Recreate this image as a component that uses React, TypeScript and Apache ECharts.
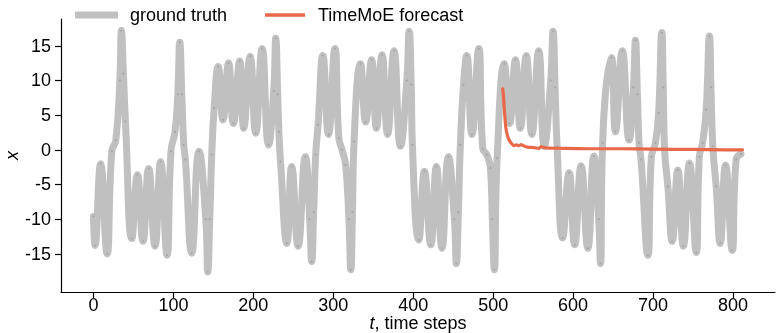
import React, { useEffect, useRef } from "react";
import * as echarts from "echarts";

// ground truth: time step and value
const truthT = [
  0, 2, 9, 17, 23, 28, 33, 35, 37.5, 40, 48, 55, 62, 69, 77, 84, 92, 97, 102, 105.5, 108, 110.5,
  113, 115, 123, 132, 140.5, 143, 145.5, 148, 151, 156, 162, 169, 175, 183, 188, 196, 203, 211,
  219, 225.5, 228, 230.5, 232, 234, 242, 248, 256, 265, 270.5, 273, 275.5, 278, 281, 287, 294,
  302, 307, 311, 315.5, 319.5, 322, 324, 326, 334, 340.5, 348, 354, 361, 368, 376, 384, 392,
  395, 397.5, 399, 407, 414, 422, 429, 436, 444, 451.5, 454, 456.5, 459, 463, 467, 473.5, 482,
  487, 492, 496.5, 499, 501.5, 505, 514, 520.6, 528, 534, 541.5, 548.5, 557, 564, 572, 575,
  577.5, 580, 587, 595, 602, 610, 618.5, 626, 632, 634.3, 637, 648, 653, 661.6, 670, 675.5,
  678, 680.5, 682.5, 685, 693.6, 698, 703, 707, 711, 712.8, 714.5, 718.6, 724, 731, 738, 745.6,
  754, 758, 762, 766.5, 770.6, 772.5, 774.8, 779, 784, 790.7, 799, 804, 810,
];
const truthX = [
  -9.6, -13.8, -2.0, -15.0, -0.2, 1.4, 10.0, 17.2, 11.0, 4.1, -12.8, -3.6, -13.2, -2.7, -13.9, -1.7, -15.2, -0.2, 2.6, 8.0, 15.5, 8.0,
  0.7, -1.4, -14.9, -0.2, -10.0, -17.6, -10.0, -0.7, 6.0, 12.0, 4.3, 12.5, 3.8, 12.8, 3.1, 13.5, 2.4, 14.6,
  0.7, 8.5, 16.1, 8.0, 2.6, -1.7, -13.5, -2.4, -13.9, -1.0, -10.0, -16.1, -9.0, -0.7, 3.6, 13.6, 2.2,
  14.6, 1.7, 0.0, -2.2, -10.0, -17.3, -9.0, 1.2, 12.4, 4.0, 13.0, 3.1, 13.7, 2.2, 14.3, 0.5, 10.0,
  17.1, 9.4, 0.7, -13.0, -3.1, -13.7, -2.4, -14.2, -1.0, -10.0, -16.4, -9.0, 0.7, 9.4, 13.6, 2.2, 14.6,
  0.2, -0.7, -2.6, -10.0, -17.3, -1.2, 12.4, 3.8, 13.0, 3.1, 13.6, 2.2, 14.3, 0.5, 10.0, 17.1,
  9.0, 0.5, -12.7, -3.3, -13.7, -2.3, -14.2, -0.9, -10.0, -16.4, 1.0, 13.3, 2.6, 14.3, 1.4, 9.0,
  15.8, 8.0, 1.0, -1.4, -15.2, -1.0, 1.0, 5.3, 16.9, 9.0, 0.0, -5.3, -13.2, -2.9, -13.9, -1.9,
  -14.8, -1.0, 1.0, 5.8, 16.4, 9.0, 0.5, -5.3, -13.5, -2.2, -14.5, -1.4, -0.6,
];

// TimeMoE forecast
const forecastT = [
  512, 513, 514, 515, 516, 518, 520, 523, 526, 529, 532, 535, 538, 542, 547, 552,
  557, 560, 564, 570, 590, 620, 660, 700, 750, 790, 812,
];
const forecastX = [
  8.8, 7.6, 5.8, 4.3, 3.1, 2.0, 1.4, 0.9, 0.6, 0.7, 0.6, 0.75, 0.6, 0.4, 0.35, 0.3,
  0.2, 0.45, 0.3, 0.25, 0.2, 0.15, 0.15, 0.1, 0.05, 0.0, 0.0,
];

const xTicks = [0, 100, 200, 300, 400, 500, 600, 700, 800];
const yTicks = [-15, -10, -5, 0, 5, 10, 15];

export default function App() {
  const ref = useRef<HTMLDivElement>(null);
  useEffect(() => {
    const chart = echarts.init(ref.current!, null, { renderer: "svg" });
    const font = "'Liberation Sans', Arial, Helvetica, sans-serif";
    const fs = 18;
    chart.setOption({
      animation: false,
      textStyle: { fontFamily: font, color: "#000" },
      legend: [
        {
          left: 75,
          top: 6,
          padding: 0,
          itemWidth: 43,
          itemHeight: 7,
          textStyle: { fontSize: fs, color: "#000", fontFamily: font, padding: [0, 0, 0, 7] },
          data: [{ name: "ground truth", icon: "rect", itemStyle: { color: "#c0c0c0" } }],
          selectedMode: false,
        },
        {
          left: 265,
          top: 6,
          padding: 0,
          itemWidth: 40,
          itemHeight: 3.5,
          textStyle: { fontSize: fs, color: "#000", fontFamily: font, padding: [0, 0, 0, 8] },
          data: [{ name: "TimeMoE forecast", icon: "rect", itemStyle: { color: "#e8694a" } }],
          selectedMode: false,
        },
      ],
      grid: { left: 61, right: 2, top: 19, bottom: 41, outerBoundsMode: "none" },
      xAxis: {
        type: "value",
        min: -40.6,
        max: 852.6,
        name: "{i|t}, time steps",
        nameLocation: "middle",
        nameGap: 23,
        nameMoveOverlap: false,
        nameTextStyle: {
          fontSize: fs,
          lineHeight: 16,
          color: "#000",
          fontFamily: font,
          rich: { i: { fontStyle: "italic", fontSize: fs, lineHeight: 16, fontFamily: font, color: "#000" } },
        },
        axisLine: { show: true, onZero: false, lineStyle: { color: "#000", width: 1.2 } },
        axisTick: { show: true, inside: false, length: 6, customValues: xTicks, lineStyle: { color: "#000", width: 1.2 } },
        axisLabel: { customValues: xTicks, fontSize: fs, lineHeight: 16, color: "#000", margin: 5, fontFamily: font },
        splitLine: { show: false },
      },
      yAxis: {
        type: "value",
        min: -20.5,
        max: 18.86,
        name: "x",
        nameLocation: "middle",
        nameGap: 40,
        nameRotate: 90,
        nameMoveOverlap: false,
        nameTextStyle: { fontSize: fs, fontStyle: "italic", color: "#000", fontFamily: font },
        axisLine: { show: true, onZero: false, lineStyle: { color: "#000", width: 1.2 } },
        axisTick: { show: true, inside: false, length: 6, customValues: yTicks, lineStyle: { color: "#000", width: 1.2 } },
        axisLabel: { customValues: yTicks, fontSize: fs, color: "#000", margin: 10, fontFamily: font },
        splitLine: { show: false },
      },
      series: [
        {
          name: "ground truth",
          type: "line",
          data: truthT.map((t, i) => [t, truthX[i]]),
          smooth: 0.5,
          showSymbol: true,
          symbol: "circle",
          symbolSize: 2.2,
          itemStyle: { color: "#a6a6a6" },
          lineStyle: { color: "#c0c0c0", width: 7, cap: "round", join: "round" },
          z: 2,
        },
        {
          name: "TimeMoE forecast",
          type: "line",
          data: forecastT.map((t, i) => [t, forecastX[i]]),
          smooth: 0.2,
          showSymbol: false,
          itemStyle: { color: "#e8694a" },
          lineStyle: { color: "#e8694a", width: 3.2, cap: "round", join: "round" },
          z: 3,
        },
      ],
    });
    return () => chart.dispose();
  }, []);
  return (
    <div
      ref={ref}
      style={{ position: "fixed", left: 0, top: 0, width: 777, height: 333 }}
    />
  );
}
